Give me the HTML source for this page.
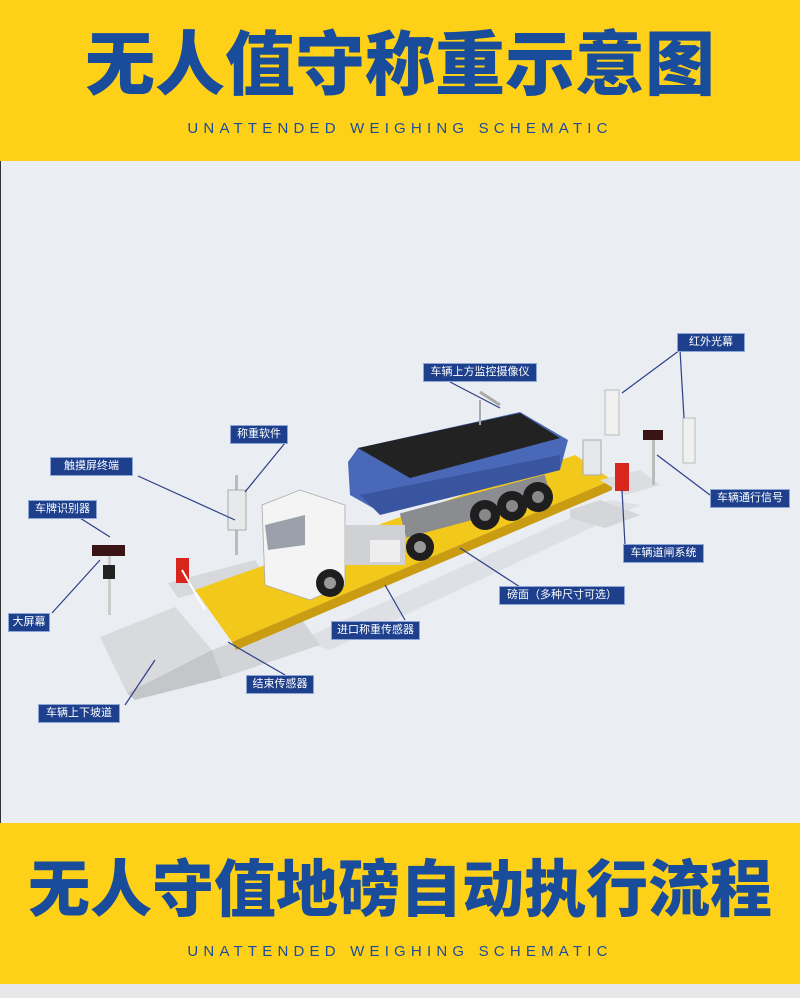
<!DOCTYPE html>
<html><head><meta charset="utf-8"><style>
*{margin:0;padding:0;box-sizing:border-box}
body{width:800px;height:998px;background:#e8e7e9;position:relative;overflow:hidden;font-family:"Liberation Sans","Noto Sans CJK SC",sans-serif}
.band{position:absolute;left:0;width:800px;background:#fed018}
.t{position:absolute;left:0;width:800px;text-align:center;color:#1a4c9c;font-family:"Liberation Sans","Noto Sans CJK SC",sans-serif;font-weight:900;white-space:nowrap}
.s{position:absolute;left:0;width:800px;text-align:center;color:#1a4c9c;font-size:15px;letter-spacing:5.2px;white-space:nowrap}
.lab{position:absolute;background:#1d3f8c;border:1px solid #8ea6d6;color:#fff;font-size:11px;line-height:17px;text-align:center;white-space:nowrap;font-family:"Liberation Sans","Noto Sans CJK SC",sans-serif}
</style></head><body>
<div class="band" style="top:0;height:161px"></div>
<div class="t" style="top:22px;font-size:70px;line-height:86px">无人值守称重示意图</div>
<div class="s" style="top:120px">UNATTENDED WEIGHING SCHEMATIC</div>
<div style="position:absolute;top:161px;left:0;width:800px;height:662px;background:#eaedf1;border-left:1px solid #333"></div>
<svg style="position:absolute;left:0;top:161px" width="800" height="662" viewBox="0 161 800 662">
<!-- shadows -->
<polygon points="300,640 610,500 640,505 330,650" fill="#dde0e5"/>
<!-- ramp -->
<polygon points="100,637 175,607 212,650 127,693" fill="#d9dadd"/>
<polygon points="127,693 212,650 222,678 135,700" fill="#c4c6ca"/>
<polygon points="212,650 300,617 320,645 222,678" fill="#d3d4d7"/>
<!-- left pedestal -->
<polygon points="168,583 255,560 265,575 178,598" fill="#d7d8db"/>
<!-- yellow platform -->
<polygon points="195,590 575,455 612,480 232,642" fill="#f2c81a"/>
<polygon points="232,642 612,480 612,490 236,650" fill="#c99c12"/>
<!-- right pedestal -->
<polygon points="570,510 600,500 640,515 605,528 570,518" fill="#d5d6d9"/>
<polygon points="600,480 640,470 660,485 625,495" fill="#dcdde0"/>
<!-- barrier left -->
<rect x="176" y="558" width="13" height="25" fill="#d9261c"/>
<line x1="182" y1="570" x2="205" y2="610" stroke="#fff" stroke-width="2"/>
<!-- barrier right -->
<rect x="615" y="463" width="14" height="28" fill="#d9261c"/>
<!-- poles -->
<rect x="235" y="475" width="3" height="80" fill="#bbb"/>
<rect x="228" y="490" width="18" height="40" fill="#e8e9eb" stroke="#999" stroke-width="0.8"/>
<rect x="108" y="555" width="3" height="60" fill="#ccc"/>
<rect x="92" y="545" width="33" height="11" fill="#3a1414"/>
<rect x="103" y="565" width="12" height="14" fill="#222"/>
<rect x="605" y="390" width="14" height="45" fill="#f0f0f0" stroke="#bbb"/>
<rect x="683" y="418" width="12" height="45" fill="#f0f0f0" stroke="#bbb"/>
<rect x="643" y="430" width="20" height="10" fill="#3a1414"/>
<rect x="652" y="440" width="3" height="45" fill="#bbb"/>
<rect x="583" y="440" width="18" height="35" fill="#e6e7ea" stroke="#aaa"/>
<!-- trailer -->
<polygon points="348,462 358,448 520,412 568,440 560,470 440,500 380,512 350,495" fill="#4a68b8"/>
<polygon points="358,448 520,413 560,438 410,478" fill="#222"/>
<polygon points="360,495 560,455 560,470 380,515" fill="#3a55a0"/>
<rect x="400" y="495" width="150" height="25" fill="#8a8c90" transform="rotate(-15 470 505)"/>
<circle cx="485" cy="515" r="15" fill="#1e1e1e"/><circle cx="485" cy="515" r="6" fill="#888"/>
<circle cx="512" cy="506" r="15" fill="#1e1e1e"/><circle cx="512" cy="506" r="6" fill="#888"/>
<circle cx="538" cy="497" r="15" fill="#1e1e1e"/><circle cx="538" cy="497" r="6" fill="#888"/>
<!-- cab -->
<polygon points="262,505 300,490 345,505 345,585 310,600 265,585" fill="#f4f4f4" stroke="#aaa" stroke-width="0.8"/>
<polygon points="265,525 305,515 305,545 268,550" fill="#9aa1aa"/>
<rect x="345" y="525" width="60" height="40" fill="#cfd1d4"/>
<rect x="370" y="540" width="30" height="22" fill="#eee"/>
<circle cx="330" cy="583" r="14" fill="#1e1e1e"/><circle cx="330" cy="583" r="6" fill="#999"/>
<circle cx="420" cy="547" r="14" fill="#1e1e1e"/><circle cx="420" cy="547" r="6" fill="#999"/>
<!-- camera pole -->
<line x1="480" y1="400" x2="480" y2="425" stroke="#aaa" stroke-width="2"/>
<line x1="480" y1="392" x2="500" y2="405" stroke="#aaa" stroke-width="3"/>
<!-- leader lines -->
<g stroke="#2c3f88" stroke-width="1.2" fill="none">
<line x1="680" y1="350" x2="622" y2="393"/>
<line x1="680" y1="350" x2="684" y2="418"/>
<line x1="450" y1="382" x2="500" y2="408"/>
<line x1="285" y1="443" x2="245" y2="492"/>
<line x1="138" y1="476" x2="235" y2="520"/>
<line x1="80" y1="518" x2="110" y2="537"/>
<line x1="710" y1="495" x2="657" y2="455"/>
<line x1="625" y1="545" x2="622" y2="490"/>
<line x1="520" y1="587" x2="460" y2="548"/>
<line x1="52" y1="613" x2="100" y2="560"/>
<line x1="405" y1="620" x2="385" y2="585"/>
<line x1="285" y1="675" x2="228" y2="642"/>
<line x1="125" y1="705" x2="155" y2="660"/>
</g>
</svg>
<div class="lab" style="left:677px;top:333px;width:68px">红外光幕</div>
<div class="lab" style="left:423px;top:363px;width:114px">车辆上方监控摄像仪</div>
<div class="lab" style="left:230px;top:425px;width:58px">称重软件</div>
<div class="lab" style="left:50px;top:457px;width:83px">触摸屏终端</div>
<div class="lab" style="left:28px;top:500px;width:69px">车牌识别器</div>
<div class="lab" style="left:710px;top:489px;width:80px">车辆通行信号</div>
<div class="lab" style="left:623px;top:544px;width:81px">车辆道闸系统</div>
<div class="lab" style="left:499px;top:586px;width:126px">磅面（多种尺寸可选）</div>
<div class="lab" style="left:8px;top:613px;width:42px">大屏幕</div>
<div class="lab" style="left:331px;top:621px;width:89px">进口称重传感器</div>
<div class="lab" style="left:246px;top:675px;width:68px">结束传感器</div>
<div class="lab" style="left:38px;top:704px;width:82px">车辆上下坡道</div>
<div class="band" style="top:823px;height:161px"></div>
<div class="t" style="top:852px;font-size:62px;line-height:78px">无人守值地磅自动执行流程</div>
<div class="s" style="top:943px">UNATTENDED WEIGHING SCHEMATIC</div>
</body></html>
